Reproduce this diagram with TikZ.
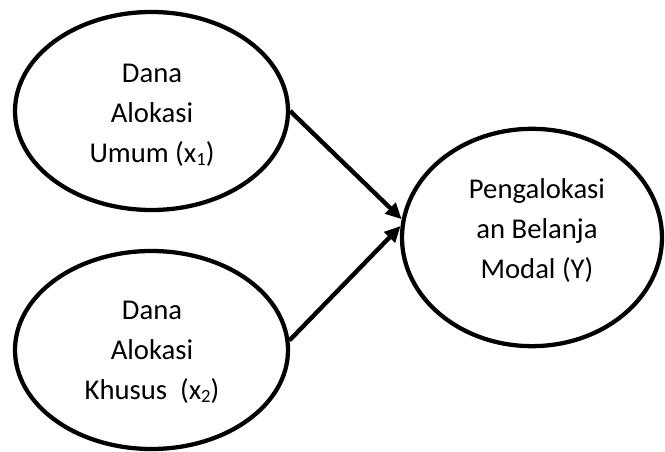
\documentclass[tikz,border=0pt]{standalone}
\usepackage{fontspec}
\setmainfont{Carlito}
\usetikzlibrary{shapes.geometric,arrows.meta}
\newcommand\lowidx[1]{\raisebox{-0.25ex}{\fontsize{14}{14}\selectfont #1}}
\begin{document}
\begin{tikzpicture}[x=0.75pt,y=-0.75pt,
  oval/.style={ellipse,draw=black,line width=3.2pt,inner sep=0pt},
  label text/.style={align=center,font=\fontsize{21.5}{30}\selectfont,inner sep=0pt},
  link/.style={line width=3.3pt,-{Triangle[length=12pt,width=11pt]}}]
\useasboundingbox (0,0) rectangle (665,452);
\node[oval,minimum width=204.75pt,minimum height=148.5pt] (x1) at (151.5,111) {};
\node[oval,minimum width=204.75pt,minimum height=148.5pt] (x2) at (151.5,350) {};
\node[oval,minimum width=195pt,minimum height=163pt] (Y) at (532,237.5) {};
\node[label text] (t1) at (152,115) {Dana\\Alokasi\\Umum (x\lowidx{1})};
\node[label text] (t2) at (152,352) {Dana\\Alokasi\\Khusus\ \ (x\lowidx{2})};
\node[label text] (t3) at (537,231) {Pengalokasi\\an Belanja\\Modal (Y)};
\draw[link] (x1.east) -- (Y.172);
\draw[link] (x2.4) -- (Y.175);
\end{tikzpicture}
\end{document}
